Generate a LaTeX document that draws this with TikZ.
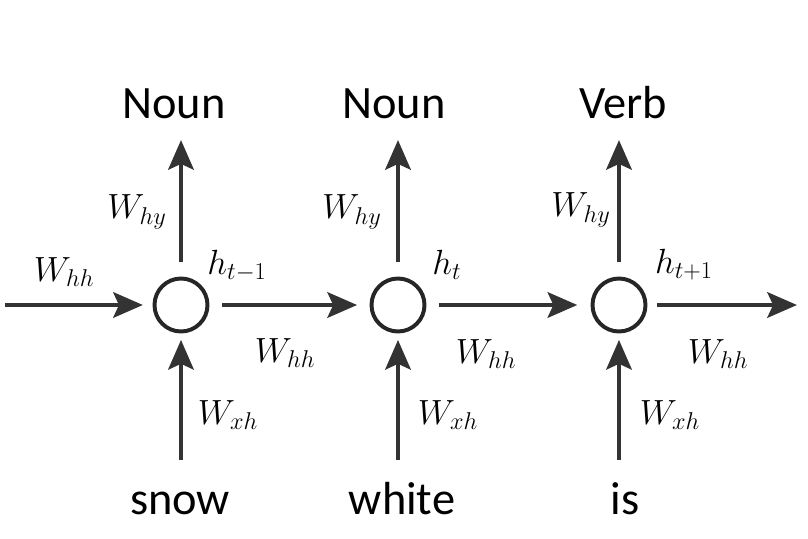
\documentclass[tikz,border=0pt]{standalone}
\usepackage{fontspec}
\setmainfont{Carlito}
\usetikzlibrary{arrows.meta}
\tikzset{
    cell/.style={circle,draw=black!85,line width=2.8pt,minimum size=13.25mm,inner sep=0pt,outer sep=0pt},
    arr/.style={-{Stealth[length=21pt,width=18pt,inset=4pt]},line width=3.5pt,draw=black!80},
    word/.style={anchor=base,inner sep=0pt,font=\fontsize{33}{36}\selectfont},
    wlab/.style={inner sep=0pt,font=\fontsize{23}{26}\selectfont},
    hlab/.style={inner sep=1pt,fill=white,font=\fontsize{23}{26}\selectfont}
}

\begin{document}
\begin{tikzpicture}[x=0.25mm,y=-0.25mm]
                \useasboundingbox (0,0) rectangle (808,539);
                \node[cell] (c1) at (181,305) {};
                \node[cell] (c2) at (398,305) {};
                \node[cell] (c3) at (619,305) {};
                \node[word] (y1) at (174,118) {Noun};
                \node[word] (y2) at (394,118) {Noun};
                \node[word] (y3) at (623,118) {Verb};
                \node[word] (x1) at (180,514) {snow};
                \node[word] (x2) at (402,514) {white};
                \node[word] (x3) at (625,514) {is};
                \coordinate (in) at (5,305);
                \coordinate (out) at (797,305);
                \draw[arr,shorten >=2.9mm] (in)--(c1);
                \draw[arr,shorten <=3.6mm,shorten >=3.6mm] (c1)--(c2);
                \draw[arr,shorten <=3.6mm,shorten >=3.8mm] (c2)--(c3);
                \draw[arr,shorten <=2.9mm] (c3)--(out);
                \draw[arr,shorten <=4.1mm,shorten >=5.5mm] (c1)--(c1 |- y1.base);
                \draw[arr,shorten <=4.1mm,shorten >=5.5mm] (c2)--(c2 |- y2.base);
                \draw[arr,shorten <=4.1mm,shorten >=5.5mm] (c3)--(c3 |- y3.base);
                \draw[arr,shorten <=13.5mm,shorten >=2.1mm] (c1 |- x1.base)--(c1);
                \draw[arr,shorten <=13.5mm,shorten >=2.1mm] (c2 |- x2.base)--(c2);
                \draw[arr,shorten <=13.5mm,shorten >=2.1mm] (c3 |- x3.base)--(c3);
                \node[wlab] (win) at (64,272) {\(W_{hh}\)};
                \node[hlab] (h1) at (237,266) {\(h_{t-1}\)};
                \node[hlab] (h2) at (447,265) {\(h_{t}\)};
                \node[hlab] (h3) at (684,265) {\(h_{t+1}\)};
                \node[wlab] (wy1) at (137,212) {\(W_{hy}\)};
                \node[wlab] (wy2) at (352,212) {\(W_{hy}\)};
                \node[wlab] (wy3) at (581,210) {\(W_{hy}\)};
                \node[wlab] (wh1) at (285,353) {\(W_{hh}\)};
                \node[wlab] (wh2) at (486,354) {\(W_{hh}\)};
                \node[wlab] (wh3) at (718,354) {\(W_{hh}\)};
                \node[wlab] (wx1) at (228,415) {\(W_{xh}\)};
                \node[wlab] (wx2) at (448,415) {\(W_{xh}\)};
                \node[wlab] (wx3) at (670,415) {\(W_{xh}\)};
            \end{tikzpicture}
\end{document}
